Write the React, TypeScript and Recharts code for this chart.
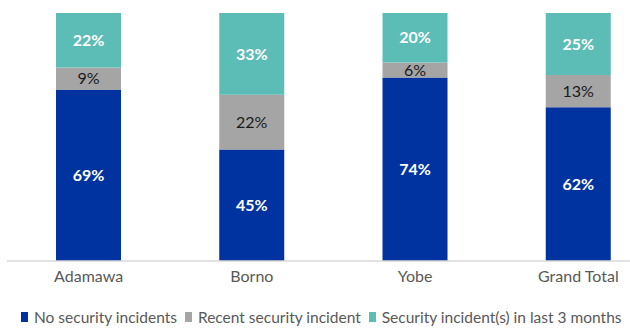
import { BarChart, Bar, XAxis, YAxis, Legend, LabelList } from 'recharts';

const regions = ['Adamawa', 'Borno', 'Yobe', 'Grand Total'];
const noIncidents = [69, 45, 74, 62];
const recentIncident = [9, 22, 6, 13];
const lastThreeMonths = [22, 33, 20, 25];

const seriesNames = ['No security incidents', 'Recent security incident', 'Security incident(s) in last 3 months'];
const seriesColors = ['#0033A0', '#A5A5A5', '#5BBDB5'];

const data = regions.map((name, i) => ({
  name,
  none: noIncidents[i],
  recent: recentIncident[i],
  last3: lastThreeMonths[i],
}));

const renderLegend = () => (
  <div style={{ display: 'flex', alignItems: 'center', paddingLeft: 14, paddingTop: 10, fontSize: 15.5, color: '#595959', whiteSpace: 'nowrap' }}>
    {seriesNames.map((s, i) => (
      <div key={s} style={{ display: 'flex', alignItems: 'center', marginRight: 8 }}>
        <span style={{ display: 'inline-block', width: 7, height: 10, background: seriesColors[i], marginRight: 6 }} />
        <span>{s}</span>
      </div>
    ))}
  </div>
);

const App = () => {
  const fmt = (v: any) => `${v}%`;
  return (
    <div style={{ position: 'absolute', top: 0, left: 0, width: 630, height: 328, overflow: 'hidden', background: '#fff', fontFamily: 'Lato, sans-serif' }}>
      <BarChart width={660} height={328} data={data} margin={{ top: 13, right: 0, left: 7, bottom: 0 }}>
        <XAxis
          dataKey="name"
          height={37}
          axisLine={{ stroke: '#D9D9D9', strokeWidth: 1.5 }}
          tickLine={false}
          tick={{ fill: '#595959', fontSize: 16 }}
          dy={2}
        />
        <YAxis hide domain={[0, 100]} />
        <Legend verticalAlign="bottom" height={30} content={renderLegend} />
        <Bar dataKey="none" stackId="a" fill={seriesColors[0]} barSize={65} isAnimationActive={false}>
          <LabelList dataKey="none" position="center" formatter={fmt} fill="#fff" fontSize={16} fontWeight="bold" />
        </Bar>
        <Bar dataKey="recent" stackId="a" fill={seriesColors[1]} barSize={65} isAnimationActive={false}>
          <LabelList dataKey="recent" position="center" formatter={fmt} fill="#1a1a1a" fontSize={16} />
        </Bar>
        <Bar dataKey="last3" stackId="a" fill={seriesColors[2]} barSize={65} isAnimationActive={false}>
          <LabelList dataKey="last3" position="center" formatter={fmt} fill="#fff" fontSize={16} fontWeight="bold" />
        </Bar>
      </BarChart>
    </div>
  );
};

export default App;
